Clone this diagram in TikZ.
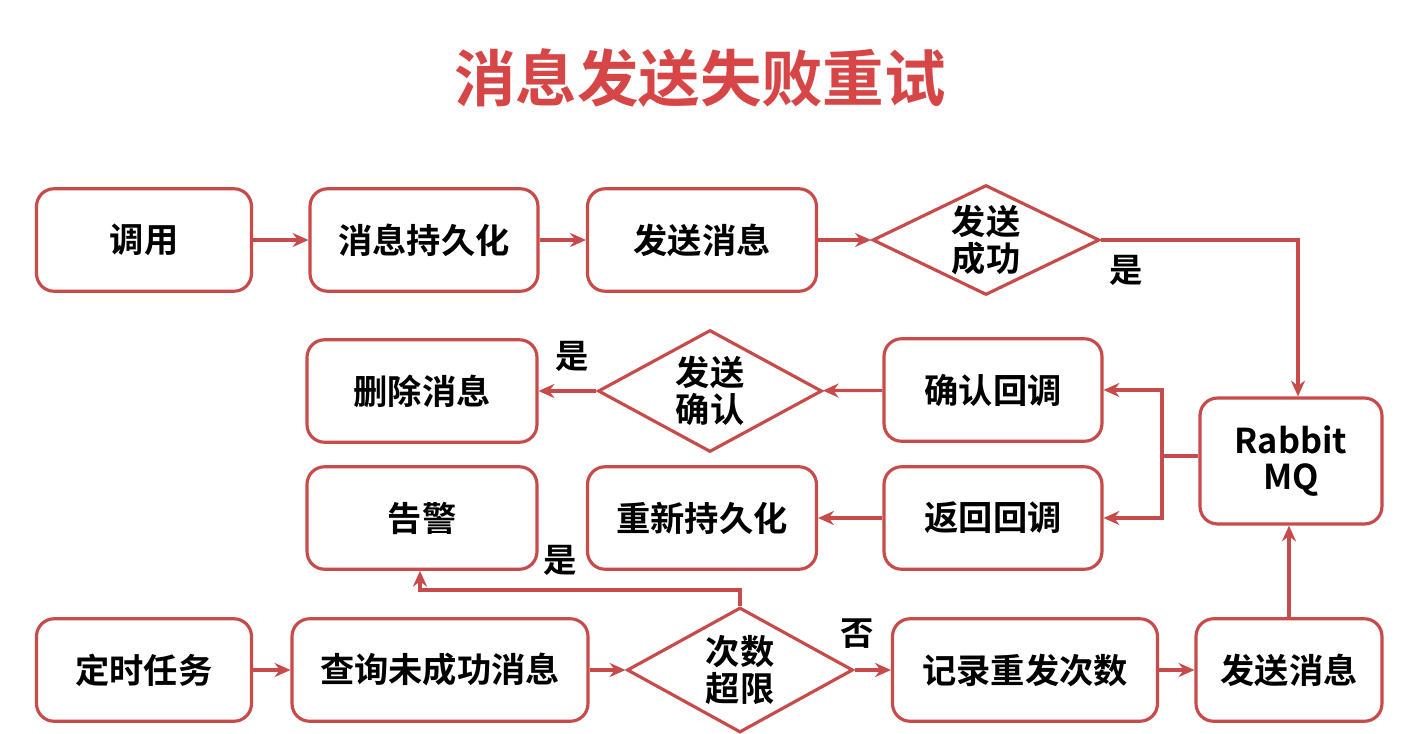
\documentclass[tikz,border=0pt]{standalone}
\usepackage{fontspec}
\setmainfont{Noto Sans CJK SC}[BoldFont={* Bold}]
\usetikzlibrary{shapes.geometric,arrows.meta}
\definecolor{rd}{RGB}{200,75,75}
\definecolor{tt}{RGB}{215,70,70}
\tikzset{
 x=0.02cm,y=-0.02cm,
 box/.style={draw=rd,line width=1.8pt,rounded corners=10pt,fill=white,minimum height=2.05cm,font=\bfseries\fontsize{19.5}{21}\selectfont,inner sep=2pt},
 dia/.style={draw=rd,line width=1.8pt,diamond,aspect=1.8,fill=white,font=\bfseries\fontsize{19.5}{21}\selectfont,align=center,inner sep=0pt},
 ar/.style={draw=rd,line width=1.8pt,-{Stealth[length=9pt,width=8pt]}},
 lb/.style={font=\bfseries\fontsize{19}{20}\selectfont}
}
\begin{document}
\begin{tikzpicture}
\useasboundingbox (0,0) rectangle (1428,734);
\node[font=\bfseries\fontsize{35}{38}\selectfont,text=tt] (title) at (700,78) {消息发送失败重试};
\node[box,minimum width=4.3cm] (call) at (144,240) {调用};
\node[box,minimum width=4.56cm] (persist) at (424,240) {消息持久化};
\node[box,minimum width=4.58cm] (send1) at (702,240) {发送消息};
\node[dia,minimum width=4.54cm,minimum height=2.2cm] (ok) at (986,240) {发送\\成功};
\node[box,minimum width=3.64cm,minimum height=2.52cm,align=center] (mq) at (1291,461) {Rabbit\\MQ};
\node[box,minimum width=4.6cm] (del) at (422,391) {删除消息};
\node[dia,minimum width=4.48cm,minimum height=2.44cm] (ack) at (710,391) {发送\\确认};
\node[box,minimum width=4.36cm] (cb1) at (993,390) {确认回调};
\node[box,minimum width=4.6cm] (warn) at (422,518) {告警};
\node[box,minimum width=4.58cm] (rep) at (702,518) {重新持久化};
\node[box,minimum width=4.36cm] (cb2) at (993,518) {返回回调};
\node[box,minimum width=4.3cm] (job) at (144,670) {定时任务};
\node[box,minimum width=5.92cm] (query) at (440,670) {查询未成功消息};
\node[dia,minimum width=4.52cm,minimum height=2.5cm] (lim) at (740,670) {次数\\超限};
\node[box,minimum width=5.3cm] (rec) at (1025,670) {记录重发次数};
\node[box,minimum width=3.72cm] (send2) at (1289,670) {发送消息};
\coordinate (j1) at (1298,240);
\coordinate (j2) at (1162,456);
\coordinate (j3) at (1162,390);
\coordinate (j4) at (1162,518);
\coordinate (j5) at (740,590);
\coordinate (j6) at (420,590);
\draw[ar] (call) -- (persist);
\draw[ar] (persist) -- (send1);
\draw[ar] (send1) -- (ok);
\draw[ar] (ok.east) -- (j1) -- (j1 |- mq.north);
\draw[draw=rd,line width=1.8pt] (mq.west |- j2) -- (j2);
\draw[ar] (j2) -- (j3) -- (cb1.east);
\draw[ar] (j2) -- (j4) -- (cb2.east);
\draw[ar] (cb1) -- (ack);
\draw[ar] (ack) -- (del);
\draw[ar] (cb2) -- (rep);
\draw[ar] (lim.north) -- (j5) -- (j6) -- (j6 |- warn.south);
\draw[ar] (job) -- (query);
\draw[ar] (query) -- (lim);
\draw[ar] (lim) -- (rec);
\draw[ar] (rec) -- (send2);
\draw[ar] (send2.north) -- (send2.north |- mq.south);
\node[lb] (y1) at (1126,270) {是};
\node[lb] (y2) at (572,356) {是};
\node[lb] (y3) at (560,560) {是};
\node[lb] (n1) at (857,634) {否};
\end{tikzpicture}
\end{document}
